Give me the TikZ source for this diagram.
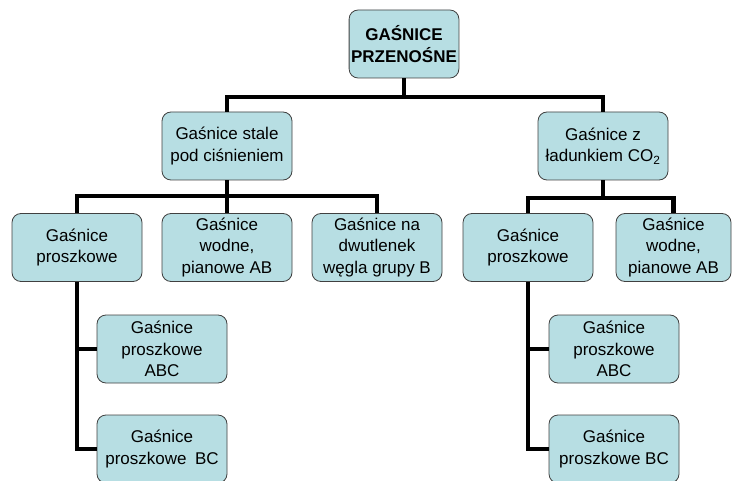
\documentclass[tikz,border=0pt]{standalone}
\usepackage{fontspec}
\setmainfont{Liberation Sans}
\usetikzlibrary{positioning}
\definecolor{boxfill}{RGB}{183, 222, 227}
\definecolor{boxline}{RGB}{64, 64, 64}

\begin{document}
\begin{tikzpicture}[
    x=1pt, y=-1pt,
    unit/.style={rectangle, draw=boxline, fill=boxfill, rounded corners=9pt,
                 line width=0.8pt, minimum width=130pt, minimum height=68pt,
                 inner sep=2pt, align=center, font=\fontsize{17}{21.5}\selectfont},
    root/.style={unit, minimum width=108pt, font=\fontsize{17}{21.5}\selectfont\bfseries},
    link/.style={line width=4.5pt, black}
]
\useasboundingbox (0,0) rectangle (733,481);

%% ── Top ─────────────────────────────────────────────────────────────────────
\node[root] (top) at (404, 44) {GAŚNICE\\PRZENOŚNE};

%% ── Second level ────────────────────────────────────────────────────────────
\node[unit] (stale) at (227, 146) {Gaśnice stale\\pod ciśnieniem};
\node[unit] (co2)   at (603, 146) {Gaśnice z\\ładunkiem CO\textsubscript{2}};

%% ── Third level ─────────────────────────────────────────────────────────────
\node[unit] (proszL) at (77, 247.5)  {Gaśnice\\proszkowe};
\node[unit] (wodneL) at (227, 247.5) {Gaśnice\\wodne,\\pianowe AB};
\node[unit] (dwut)   at (377, 247.5) {Gaśnice na\\dwutlenek\\węgla grupy B};
\node[unit] (proszR) at (528, 247.5) {Gaśnice\\proszkowe};
\node[unit, minimum width=115pt] (wodneR) at (673.5, 247.5) {Gaśnice\\wodne,\\pianowe AB};

%% ── Fourth level ────────────────────────────────────────────────────────────
\node[unit] (abcL) at (162, 349) {Gaśnice\\proszkowe\\ABC};
\node[unit] (bcL)  at (162, 449) {Gaśnice\\proszkowe\enspace BC};
\node[unit] (abcR) at (614, 349) {Gaśnice\\proszkowe\\ABC};
\node[unit] (bcR)  at (614, 449) {Gaśnice\\proszkowe BC};

%% ── Links ───────────────────────────────────────────────────────────────────
\draw[link] (top.south) -- (top.south |- 0,97) coordinate (busT);
\draw[link] (stale.north) |- (busT) -| (co2.north);

\draw[link] (stale.south) -- (stale.south |- 0,196) coordinate (busL);
\draw[link] (proszL.north) |- (busL) -| (dwut.north);
\draw[link] (busL) -- (wodneL.north);

\draw[link] (co2.south) -- (co2.south |- 0,198) coordinate (busR);
\draw[link] (proszR.north) |- (busR) -| (wodneR.north);

\draw[link] (proszL.south) |- (bcL.west);
\draw[link] (proszL.south |- abcL.west) -- (abcL.west);
\draw[link] (proszR.south) |- (bcR.west);
\draw[link] (proszR.south |- abcR.west) -- (abcR.west);

\end{tikzpicture}
\end{document}
